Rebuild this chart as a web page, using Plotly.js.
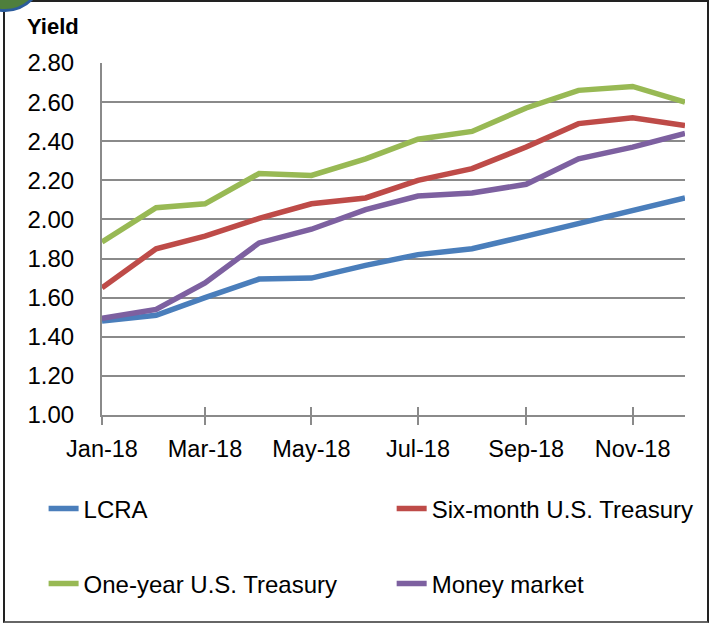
<!DOCTYPE html>
<html>
<head>
<meta charset="utf-8">
<script src="https://cdn.plot.ly/plotly-3.0.1.min.js"></script>
<style>
  html, body { margin: 0; padding: 0; background: #fff; }
  #wrap { position: relative; width: 710px; height: 623px; overflow: hidden; }
  #chart { position: absolute; left: 0; top: 0; width: 710px; height: 623px; }
  #frame { position: absolute; left: 3px; top: 0px; width: 702px; height: 619px;
           border: 2px solid #222; border-bottom-color: #666; pointer-events: none; }
  #badge { position: absolute; left: -34px; top: -66px; width: 72px; height: 72px;
           border-radius: 50%; background: #4f7f3c; border: 3px solid #2b5c9c; pointer-events: none; }
</style>
</head>
<body>
<div id="wrap">
  <div id="chart"></div>
  <div id="frame"></div>
  <div id="badge"></div>
</div>
<script>
const months = ['2018-01-01','2018-02-01','2018-03-01','2018-04-01','2018-05-01','2018-06-01',
                '2018-07-01','2018-08-01','2018-09-01','2018-10-01','2018-11-01','2018-12-01'];
const lcra       = [1.48, 1.51, 1.60, 1.695, 1.70, 1.765, 1.82, 1.85, 1.915, 1.98, 2.05, 2.11];
const sixMonth   = [1.65, 1.85, 1.915, 2.005, 2.08, 2.11, 2.20, 2.26, 2.37, 2.49, 2.52, 2.48];
const oneYear    = [1.885, 2.06, 2.08, 2.235, 2.225, 2.31, 2.41, 2.45, 2.57, 2.66, 2.68, 2.60];
const moneyMkt   = [1.495, 1.54, 1.675, 1.88, 1.95, 2.05, 2.12, 2.135, 2.18, 2.31, 2.37, 2.44];
const seriesNames = ['LCRA', 'Six-month U.S. Treasury', 'One-year U.S. Treasury', 'Money market'];
const yTicks = [1.00, 1.20, 1.40, 1.60, 1.80, 2.00, 2.20, 2.40, 2.60, 2.80];
const yTickText = yTicks.map(v => v.toFixed(2));
const yTitle = 'Yield';

const colors = ['#4a7ebb', '#be4b48', '#98b954', '#7d60a0'];
const FONT = 'Liberation Sans, Arial, sans-serif';
const legendIds = ['legend', 'legend2', 'legend3', 'legend4'];

const data = [lcra, sixMonth, oneYear, moneyMkt].map((vals, i) => ({
  type: 'scatter', mode: 'lines', x: months, y: vals, name: seriesNames[i],
  legend: legendIds[i],
  line: {color: colors[i], width: 5.5, shape: 'linear'},
  hoverinfo: 'skip'
}));

// invisible trace to activate overlay axis for inside tick marks
data.push({x: [months[0]], y: [0], xaxis: 'x2', yaxis: 'y', mode: 'markers',
           marker: {opacity: 0}, showlegend: false, hoverinfo: 'skip'});

function legendAt(x, y) {
  return {
    orientation: 'h', x: x, y: y, xanchor: 'left', yanchor: 'middle', itemwidth: 30,
    font: {family: FONT, size: 24, color: '#000'}, bgcolor: 'rgba(0,0,0,0)'
  };
}

const layout = {
  width: 710, height: 623,
  margin: {l: 102, r: 24, t: 63, b: 208},
  paper_bgcolor: '#fff', plot_bgcolor: '#fff',
  showlegend: true,
  font: {family: FONT, size: 22, color: '#000'},
  xaxis: {
    type: 'date', range: [months[0], months[months.length - 1]],
    tick0: months[0], dtick: 'M2', tickformat: '%b-%y',
    showgrid: false, zeroline: false,
    showline: true, linecolor: '#8a8a8a', linewidth: 2,
    ticks: 'outside', ticklen: 8, tickwidth: 2, tickcolor: '#8a8a8a',
    ticklabelstandoff: 4,
    tickfont: {family: FONT, size: 23.5, color: '#000'}
  },
  xaxis2: {
    type: 'date', range: [months[0], months[months.length - 1]],
    tick0: months[0], dtick: 'M2', overlaying: 'x', anchor: 'y', side: 'bottom',
    showgrid: false, zeroline: false, showline: false, showticklabels: false,
    ticks: 'inside', ticklen: 8, tickwidth: 2, tickcolor: '#8a8a8a'
  },
  yaxis: {
    range: [1.0, 2.8], tickvals: yTicks, ticktext: yTickText,
    showgrid: true, gridcolor: '#8a8a8a', gridwidth: 2,
    zeroline: false, showline: true, linecolor: '#8a8a8a', linewidth: 2,
    ticks: '', ticklabelstandoff: 21,
    tickfont: {family: FONT, size: 24, color: '#000'}
  },
  legend:  legendAt(-0.1,  -0.267),
  legend2: legendAt(0.496, -0.267),
  legend3: legendAt(-0.1,  -0.48),
  legend4: legendAt(0.496, -0.48),
  annotations: [{
    text: '<b>' + yTitle + '</b>', xref: 'paper', yref: 'paper',
    x: -0.132, y: 1.103, xanchor: 'left', yanchor: 'middle', showarrow: false,
    font: {family: FONT, size: 22, color: '#000'}
  }]
};

Plotly.newPlot('chart', data, layout, {staticPlot: true, displayModeBar: false});
</script>
</body>
</html>
